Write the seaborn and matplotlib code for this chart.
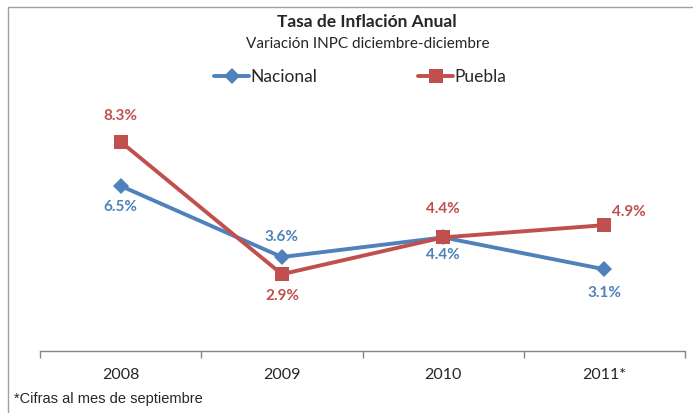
import pandas as pd
import matplotlib.pyplot as plt
import seaborn as sns
from matplotlib.patches import Rectangle

# Datos
anios = ['2008', '2009', '2010', '2011*']
nacional = [6.5, 3.6, 4.4, 3.1]
puebla = [8.3, 2.9, 4.4, 4.9]

df = pd.DataFrame({
    'anio': anios * 2,
    'valor': nacional + puebla,
    'serie': ['Nacional'] * 4 + ['Puebla'] * 4,
})

azul = '#4F81BD'
rojo = '#C0504D'

sns.set_style('white')
plt.rcParams['font.family'] = ['Lato', 'DejaVu Sans']

fig = plt.figure(figsize=(6.93, 4.13), dpi=100)
ax = fig.add_axes([40 / 693, 1 - 351 / 413, 645 / 693, 251 / 413])

sns.lineplot(data=df, x='anio', y='valor', hue='serie', style='serie',
             markers={'Nacional': 'D', 'Puebla': 's'}, dashes=False,
             palette={'Nacional': azul, 'Puebla': rojo}, sort=False,
             linewidth=2.8, markersize=8, markeredgewidth=0, ax=ax)
for ln in ax.lines:
    if ln.get_marker() == 's':
        ln.set_markersize(10)

ax.set_xlim(-0.5, 3.5)
ax.set_ylim(-0.23, 10)
ax.set_xlabel('')
ax.set_ylabel('')
ax.set_yticks([])
for s in ['top', 'right', 'left']:
    ax.spines[s].set_visible(False)
ax.spines['bottom'].set_color('#868686')
ax.spines['bottom'].set_linewidth(1)
ax.set_xticks([0, 1, 2, 3])
ax.set_xticklabels(anios, fontsize=11.5)
ax.set_xticks([-0.5, 0.5, 1.5, 2.5, 3.5], minor=True)
ax.tick_params(axis='x', which='major', length=0, pad=12)
ax.tick_params(axis='x', which='minor', bottom=True, length=5, color='#868686',
               width=1, direction='out')

# Etiquetas de datos
off_nac = [(0, -21), (0, 20), (0, -18), (0, -24)]
off_pue = [(0, 26), (0, -22), (0, 28), (24, 13)]
for i, v in enumerate(nacional):
    ax.annotate(f'{v}%', (i, v), xytext=off_nac[i], textcoords='offset pixels',
                ha='center', va='center', color=azul, fontsize=11, fontweight='bold')
for i, v in enumerate(puebla):
    ax.annotate(f'{v}%', (i, v), xytext=off_pue[i], textcoords='offset pixels',
                ha='center', va='center', color=rojo, fontsize=11, fontweight='bold')

# Leyenda
h, l = ax.get_legend_handles_labels()
ax.legend(h, l, loc='center', bbox_to_anchor=(0.52, 1 - 77 / 413),
          bbox_transform=fig.transFigure, ncol=2, frameon=False,
          fontsize=12.5, handlelength=2.0, handletextpad=0.1, columnspacing=5.8)

# Titulos
fig.text(0.53, 1 - 22 / 413, 'Tasa de Inflación Anual', ha='center', va='center',
         fontsize=12.5, fontweight='bold')
fig.text(0.53, 1 - 44 / 413, 'Variación INPC diciembre-diciembre', ha='center',
         va='center', fontsize=11)
fig.text(14 / 693, 1 - 399 / 413, '*Cifras al mes de septiembre', ha='left',
         va='center', fontsize=10.5, family=['Liberation Sans', 'DejaVu Sans'])

# Marco
fig.patches.append(Rectangle((8 / 693, -0.05), 1.0, 1.05 - 7 / 413,
                             transform=fig.transFigure, fill=False,
                             edgecolor='#a0a0a0', linewidth=1))

fig.savefig('out.png', dpi=100)
